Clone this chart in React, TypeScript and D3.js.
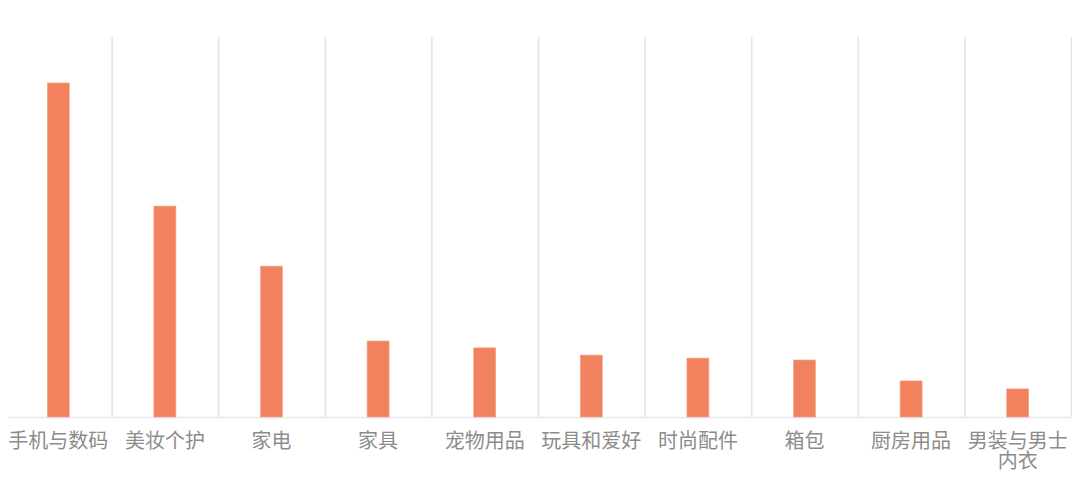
import React, { useEffect, useRef } from 'react';
import * as d3 from 'd3';

const categories = [
  '手机与数码',
  '美妆个护',
  '家电',
  '家具',
  '宠物用品',
  '玩具和爱好',
  '时尚配件',
  '箱包',
  '厨房用品',
  '男装与男士内衣'
];
const values = [87.9, 55.5, 39.7, 20, 18.2, 16.3, 15.5, 15, 9.5, 7.4];
const yMax = 100;

const width = 1080;
const height = 497;
const margins = { l: 5, r: 9, t: 37, b: 80 };

// wrap long labels at 5 chars like the reference
const splitLabel = (s: string) => {
  const out: string[] = [];
  for (let i = 0; i < s.length; i += 5) out.push(s.slice(i, i + 5));
  return out;
};

const BarChart = () => {
  const ref = useRef<SVGSVGElement>(null);

  useEffect(() => {
    const svg = d3.select(ref.current);
    svg.selectAll('*').remove();

    const plotwidth = width - margins.l - margins.r;
    const plotheight = height - margins.t - margins.b;

    const xScale = d3
      .scaleBand()
      .domain(categories)
      .range([0, plotwidth]);

    const yScale = d3
      .scaleLinear()
      .domain([0, yMax])
      .range([plotheight, 0]);

    const g = svg
      .append('g')
      .attr('transform', `translate(${margins.l},${margins.t})`);

    // vertical separators
    const edges = categories.map(c => xScale(c) as number).concat([plotwidth]);
    g.selectAll('.grid')
      .data(edges)
      .join('line')
      .attr('class', 'grid')
      .attr('x1', d => d + 0.5)
      .attr('x2', d => d + 0.5)
      .attr('y1', 0)
      .attr('y2', plotheight)
      .style('stroke', (d, i) => (i === 0 ? '#e4e4e4' : '#dfe2f0'))
      .style('stroke-width', 1.5);

    // bottom axis line
    g.append('line')
      .attr('x1', 0)
      .attr('x2', plotwidth + 1)
      .attr('y1', plotheight + 0.5)
      .attr('y2', plotheight + 0.5)
      .style('stroke', '#e6e8ee')
      .style('stroke-width', 1.5);

    const barw = 22;
    g.selectAll('.bar')
      .data(values)
      .join('rect')
      .attr('class', 'bar')
      .attr('x', (d, i) => (xScale(categories[i]) as number) + xScale.bandwidth() / 2 - barw / 2)
      .attr('y', d => yScale(d))
      .attr('width', barw)
      .attr('height', d => plotheight - yScale(d))
      .style('fill', '#f2825e')
      .style('stroke', '#f6a688')
      .style('stroke-width', 0.6);

    // one text per label line
    const lines = categories.flatMap(c =>
      splitLabel(c).map((t, i) => ({ t, i, x: (xScale(c) as number) + xScale.bandwidth() / 2 }))
    );

    g.selectAll('.xlabel')
      .data(lines)
      .join('text')
      .attr('class', 'xlabel')
      .attr('text-anchor', 'middle')
      .attr('x', d => d.x)
      .attr('y', d => plotheight + 31 + d.i * 20)
      .style('font-family', '"Noto Sans CJK SC", sans-serif')
      .style('font-size', '20px')
      .style('fill', '#8c8c8c')
      .text(d => d.t);
  }, []);

  return <svg ref={ref} width={width} height={height} style={{ display: 'block' }} />;
};

export default function App() {
  return (
    <div style={{ margin: -8 }}>
      <BarChart />
    </div>
  );
}
